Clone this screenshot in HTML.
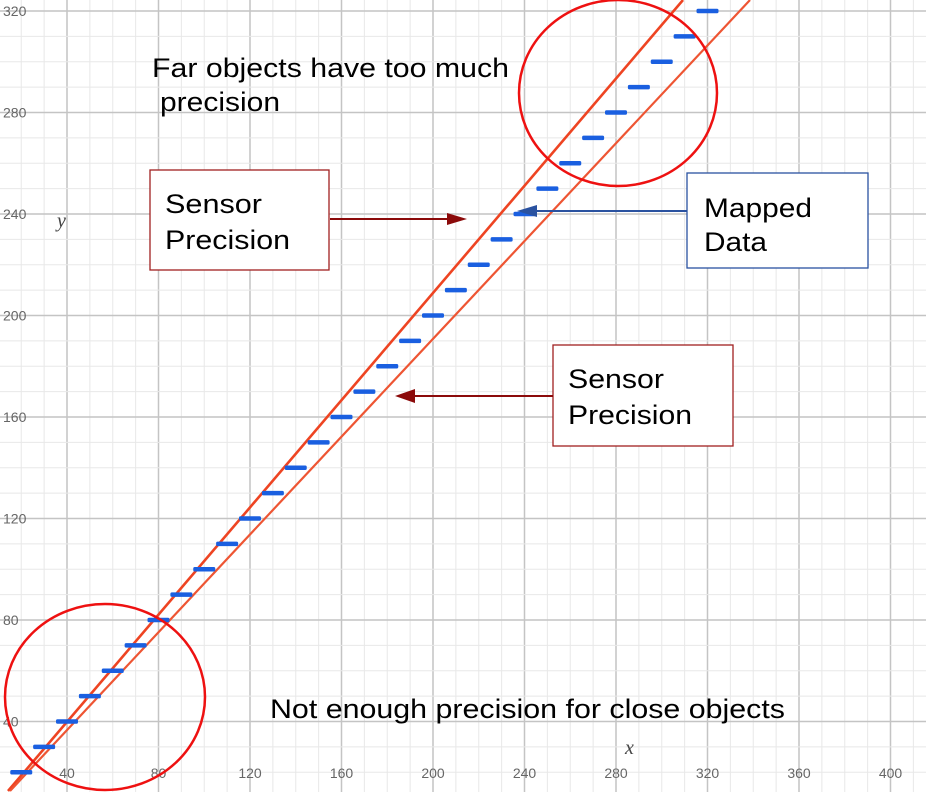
<!DOCTYPE html>
<html><head><meta charset="utf-8"><style>
html,body{margin:0;padding:0;background:#fff;width:926px;height:792px;overflow:hidden;}
svg{display:block;}
</style></head><body>
<svg id="s" width="926" height="792" viewBox="0 0 926 792" xmlns="http://www.w3.org/2000/svg" font-family="Liberation Sans, sans-serif">
<g id="grid"></g>
<g id="labels" fill="#666" font-size="14"></g>
<text x="57" y="227" font-family="Liberation Serif, serif" font-style="italic" font-size="20" fill="#444">y</text>
<text x="625" y="754" font-family="Liberation Serif, serif" font-style="italic" font-size="20" fill="#444">x</text>
<line x1="683" y1="0" x2="8" y2="791" stroke="#ee4422" stroke-width="2.6"/>
<line x1="750" y1="0" x2="10" y2="791" stroke="#ee5533" stroke-width="2.2"/>
<g id="dashes" fill="#1a5fe0"></g>
<ellipse cx="618" cy="93" rx="99" ry="93" fill="none" stroke="#ee1111" stroke-width="2.5"/>
<ellipse cx="105" cy="697" rx="100" ry="93" fill="none" stroke="#ee1111" stroke-width="2.5"/>
<text x="152" y="77" font-size="27" fill="#000" textLength="357" lengthAdjust="spacingAndGlyphs">Far objects have too much</text>
<text x="160" y="111" font-size="27" fill="#000" textLength="120" lengthAdjust="spacingAndGlyphs">precision</text>
<text x="270" y="718" font-size="27" fill="#000" textLength="515" lengthAdjust="spacingAndGlyphs">Not enough precision for close objects</text>
<rect x="150" y="170" width="179" height="100" fill="#fff" stroke="#a02020" stroke-width="1.3"/>
<text x="165" y="213" font-size="27" fill="#000" textLength="97" lengthAdjust="spacingAndGlyphs">Sensor</text>
<text x="165" y="249" font-size="27" fill="#000" textLength="125" lengthAdjust="spacingAndGlyphs">Precision</text>
<rect x="553" y="345" width="180" height="101" fill="#fff" stroke="#a02020" stroke-width="1.3"/>
<text x="568" y="388" font-size="27" fill="#000" textLength="96" lengthAdjust="spacingAndGlyphs">Sensor</text>
<text x="568" y="424" font-size="27" fill="#000" textLength="124" lengthAdjust="spacingAndGlyphs">Precision</text>
<rect x="687" y="173" width="181" height="95" fill="#fff" stroke="#2a52a0" stroke-width="1.3"/>
<text x="704" y="217" font-size="27" fill="#000" textLength="108" lengthAdjust="spacingAndGlyphs">Mapped</text>
<text x="704" y="251" font-size="27" fill="#000" textLength="63" lengthAdjust="spacingAndGlyphs">Data</text>
<line x1="330" y1="219" x2="450" y2="219" stroke="#8b0a0a" stroke-width="2"/>
<polygon points="467,219 447,213 447,225" fill="#8b0a0a"/>
<line x1="553" y1="396" x2="412" y2="396" stroke="#8b0a0a" stroke-width="2"/>
<polygon points="395,396 415,389 415,403" fill="#8b0a0a"/>
<line x1="687" y1="211" x2="533" y2="211" stroke="#2a52a0" stroke-width="2"/>
<polygon points="517,211 537,205 537,217" fill="#2a52a0"/>
</svg>
<script>
var NS="http://www.w3.org/2000/svg";
function xp(v){return -24.5+v*2.2875;}
function yp(v){return 823-v*2.5375;}
function el(p,t,a,txt){var e=document.createElementNS(NS,t);for(var k in a)e.setAttribute(k,a[k]);if(txt)e.textContent=txt;document.getElementById(p).appendChild(e);}
for(var v=20;v<=420;v+=10){var x=xp(v);var maj=v%40==0;el("grid","line",{x1:x,y1:0,x2:x,y2:792,stroke:maj?"#c4c4c4":"#e8e8e8","stroke-width":maj?1.5:1});}
for(var v=20;v<=320;v+=10){var y=yp(v);var maj=v%40==0;el("grid","line",{x1:0,y1:y,x2:926,y2:y,stroke:maj?"#c4c4c4":"#e8e8e8","stroke-width":maj?1.5:1});}
for(var v=40;v<=320;v+=40){el("labels","text",{x:3,y:yp(v)+5},String(v));}
for(var v=40;v<=400;v+=40){el("labels","text",{x:xp(v),y:778,"text-anchor":"middle"},String(v));}
for(var v=20;v<=320;v+=10){el("dashes","rect",{x:xp(v)-11,y:yp(v)-2.2,width:22,height:4.4,rx:1.5});}
</script>
</body></html>
